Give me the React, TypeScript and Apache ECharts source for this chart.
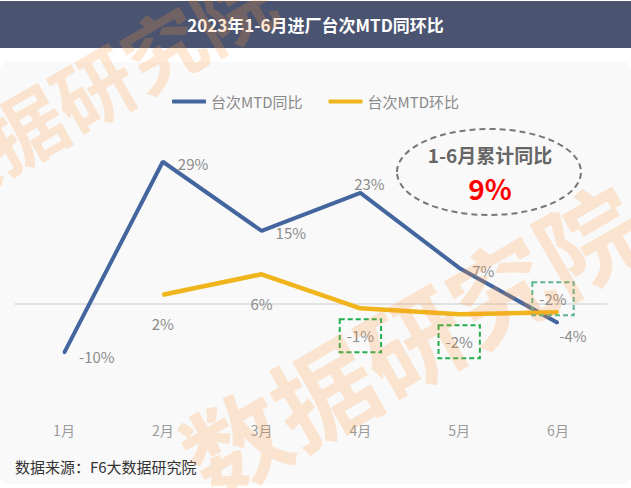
import React, { useEffect, useRef } from "react";
import * as echarts from "echarts";

const categories = ["1月", "2月", "3月", "4月", "5月", "6月"];
const yoyValues = [-10.1, 29.2, 15.0, 22.8, 7.4, -3.9];
const momValues: (number | null)[] = [null, 1.9, 6.1, -0.9, -2.1, -1.7];
const seriesNames = ["台次MTD同比", "台次MTD环比"];
const titleText = "2023年1-6月进厂台次MTD同环比";
const summaryLabel = "1-6月累计同比";
const summaryValue = "9%";
const sourceText = "数据来源：F6大数据研究院";
const watermarkText = "数据研究院";

const FONT = '"Noto Sans CJK SC", "Noto Sans", sans-serif';

// label placement styles (per point)
const yoyLabelStyle = [
  { position: "right", distance: 14, offset: [0, 3] },
  { position: "right", distance: 14, offset: [0, 2] },
  { position: "right", distance: 13, offset: [0, 2] },
  { position: "top", distance: 1, offset: [9, 0] },
  { position: "right", distance: 12, offset: [0, 3] },
  { position: "bottom", distance: 4, offset: [15, 0] },
];
const momLabelStyle: any[] = [
  null,
  { position: "bottom", distance: 20 },
  { position: "bottom", distance: 21 },
  { position: "bottom", distance: 10, box: "#1fae4b" },
  { position: "bottom", distance: 10, box: "#1fae4b" },
  { position: "top", distance: -4, offset: [-5, 0], box: "#5cb58c" },
];

const fmt = (p: any) => Math.round(p.value) + "%";

export default function App() {
  const ref = useRef<HTMLDivElement>(null);
  useEffect(() => {
    document.body.style.margin = "0";
    const chart = echarts.init(ref.current!, undefined, { renderer: "svg" });
    const labelBase = { color: "#8c8c8c", fontSize: 15, fontFamily: FONT };
    const yoyData = yoyValues.map((v, i) => ({
      value: v,
      label: { show: true, ...labelBase, ...yoyLabelStyle[i], formatter: fmt },
    }));
    const momData = momValues.map((v, i) => {
      if (v === null) return "-";
      const s = momLabelStyle[i];
      const lab: any = { show: true, ...labelBase, position: s.position, distance: s.distance, formatter: fmt };
      if (s.offset) lab.offset = s.offset;
      if (s.box) {
        lab.borderColor = s.box;
        lab.borderWidth = 2;
        lab.borderType = [5, 3];
        lab.padding = [8, 7, 8, 7];
        lab.lineHeight = 17;
      }
      return { value: v, label: lab };
    });
    const centered = { align: "center", verticalAlign: "middle", textAlign: "center", textVerticalAlign: "middle" };
    chart.setOption({
      animation: false,
      backgroundColor: "#ffffff",
      textStyle: { fontFamily: FONT },
      grid: { left: 14.6, right: 23.6, top: 133.5, height: 282.5 },
      legend: {
        top: 89,
        left: "center",
        icon: "roundRect",
        itemWidth: 34,
        itemHeight: 4,
        itemGap: 26,
        textStyle: { color: "#8a8a8a", fontSize: 15, fontFamily: FONT },
        data: seriesNames,
      },
      xAxis: {
        type: "category",
        data: categories,
        boundaryGap: true,
        axisLine: { show: false },
        axisTick: { show: false },
        axisLabel: { color: "#9a9a9a", fontSize: 14, margin: 7, fontFamily: FONT },
      },
      yAxis: {
        type: "value",
        min: -23,
        max: 35,
        show: false,
        splitLine: { show: false },
      },
      series: [
        {
          name: seriesNames[0],
          type: "line",
          data: yoyData,
          symbol: "circle",
          symbolSize: 2,
          itemStyle: { color: "#44669e" },
          lineStyle: { color: "#44669e", width: 4 },
          z: 3,
        },
        {
          name: seriesNames[1],
          type: "line",
          data: momData,
          symbol: "circle",
          symbolSize: 2,
          itemStyle: { color: "#f0b51c" },
          lineStyle: { color: "#f0b51c", width: 4.5 },
          z: 3,
          markLine: {
            silent: true,
            symbol: ["none", "none"],
            label: { show: false },
            lineStyle: { color: "#e2e2e2", width: 2, type: "solid" },
            data: [{ yAxis: 0 }],
            z: 1,
          },
        },
      ],
      graphic: [
        { type: "rect", z: -5, silent: true, shape: { x: 0, y: 62, width: 631, height: 422, r: 8 }, style: { fill: "#f9f9f9" } },
        { type: "rect", z: -4, silent: true, shape: { x: 0, y: 1, width: 631, height: 47 }, style: { fill: "#4a5470" } },
        {
          type: "text", z: -3, silent: true, x: 315.5, y: 24,
          style: { text: titleText, fill: "#ffffff", font: `bold 17px ${FONT}`, ...centered },
        },
        {
          type: "ellipse", z: 5, silent: true, shape: { cx: 489, cy: 172, rx: 92, ry: 43 },
          style: { fill: "transparent", stroke: "#777777", lineWidth: 2, lineDash: [6, 4] },
        },
        {
          type: "text", z: 5, silent: true, x: 490, y: 154,
          style: { text: summaryLabel, fill: "#666666", font: `bold 19px ${FONT}`, ...centered },
        },
        {
          type: "text", z: 5, silent: true, x: 490, y: 188,
          style: { text: summaryValue, fill: "#ff0000", font: `bold 28px ${FONT}`, ...centered },
        },
        {
          type: "text", z: 5, silent: true, x: 15, y: 466,
          style: { text: sourceText, fill: "#333333", font: `15px ${FONT}`, align: "left", verticalAlign: "middle", textAlign: "left", textVerticalAlign: "middle" },
        },
        {
          type: "text", z: 100, silent: true, x: 92, y: 86, rotation: Math.PI / 6,
          style: { text: watermarkText, fill: "rgba(255,150,60,0.22)", font: `bold 80px ${FONT}`, ...centered },
        },
        {
          type: "text", z: 100, silent: true, x: 410, y: 338, rotation: Math.PI / 6,
          style: { text: watermarkText, fill: "rgba(255,150,60,0.22)", font: `bold 102px ${FONT}`, ...centered },
        },
      ],
    });
    return () => chart.dispose();
  }, []);
  return <div ref={ref} style={{ width: 631, height: 488 }} />;
}
